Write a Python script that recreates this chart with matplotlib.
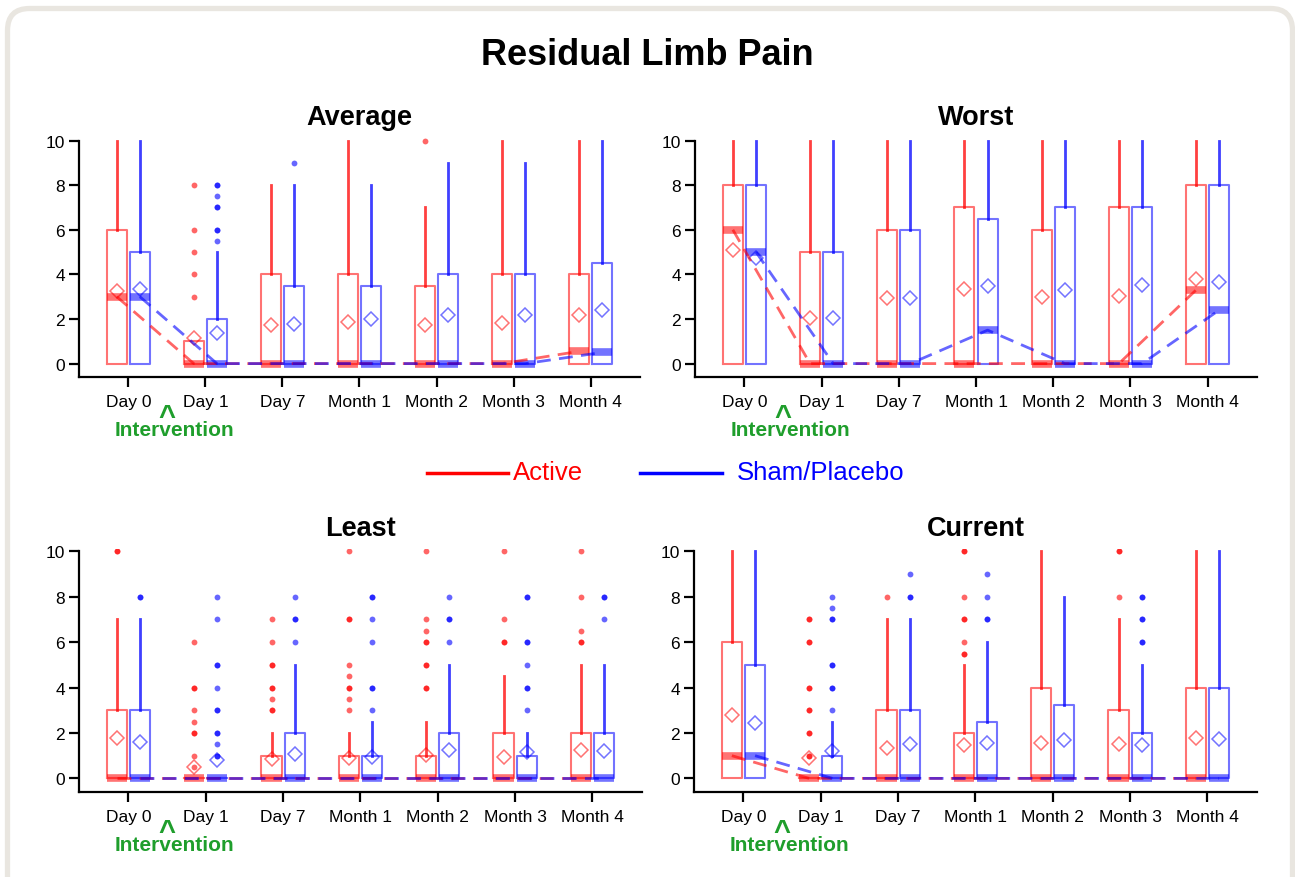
import matplotlib.pyplot as plt
from matplotlib.patches import FancyBboxPatch
from matplotlib.lines import Line2D

plt.rcParams['font.family'] = ['Liberation Sans', 'DejaVu Sans']

timepoints = ["Day 0", "Day 1", "Day 7", "Month 1", "Month 2", "Month 3", "Month 4"]

# ---- Average ----
avg_act_q3 = [6, 1, 4, 4, 3.5, 4, 4]
avg_act_med = [3, 0, 0, 0, 0, 0, 0.55]
avg_act_hi = [10, 1, 8, 10, 7, 10, 10]
avg_act_mean = [3.25, 1.16, 1.75, 1.87, 1.72, 1.81, 2.16]
avg_act_out = [[], [3, 4, 5, 6, 8], [], [], [10], [], []]
avg_sham_q3 = [5, 2, 3.5, 3.5, 4, 4, 4.5]
avg_sham_med = [3, 0, 0, 0, 0, 0, 0.5]
avg_sham_hi = [10, 5, 8, 8, 9, 9, 10]
avg_sham_mean = [3.33, 1.37, 1.79, 1.99, 2.19, 2.16, 2.40]
avg_sham_out = [[], [5.5, 6, 6, 7, 7, 7.5, 8, 8], [9], [], [], [], []]

# ---- Worst ----
wst_act_q3 = [8, 5, 6, 7, 6, 7, 8]
wst_act_med = [6, 0, 0, 0, 0, 0, 3.3]
wst_act_hi = [10, 10, 10, 10, 10, 10, 10]
wst_act_mean = [5.1, 2.04, 2.96, 3.33, 2.99, 3.03, 3.81]
wst_act_out = [[], [], [], [], [], [], []]
wst_sham_q3 = [8, 5, 6, 6.5, 7, 7, 8]
wst_sham_med = [5, 0, 0, 1.5, 0, 0, 2.4]
wst_sham_hi = [10, 10, 10, 10, 10, 10, 10]
wst_sham_mean = [4.73, 2.04, 2.96, 3.46, 3.30, 3.52, 3.66]
wst_sham_out = [[], [], [], [], [], [], []]

# ---- Least ----
lst_act_q3 = [3, 0, 1, 1, 1, 2, 2]
lst_act_med = [0, 0, 0, 0, 0, 0, 0]
lst_act_hi = [7, 0, 2, 2, 2.5, 4.5, 5]
lst_act_mean = [1.8, 0.51, 0.85, 0.9, 1.03, 0.95, 1.23]
lst_act_out = [[10, 10], [0.5, 1, 2, 2, 2.5, 3, 4, 4, 6],
               [3, 3, 3.5, 4, 4, 5, 5, 6, 7], [3, 3.5, 4, 4, 4.5, 5, 7, 7, 10],
               [4, 4, 5, 5, 6, 6, 6.5, 7, 10], [6, 6, 7, 10], [6, 6, 6.5, 8, 10]]
lst_sham_q3 = [3, 0, 2, 1, 2, 1, 2]
lst_sham_med = [0, 0, 0, 0, 0, 0, 0]
lst_sham_hi = [7, 0, 5, 2.5, 5, 2, 5]
lst_sham_mean = [1.61, 0.81, 1.09, 0.95, 1.23, 1.17, 1.2]
lst_sham_out = [[8, 8], [1, 1, 1.5, 2, 2, 3, 3, 4, 5, 5, 7, 8], [6, 7, 7, 8],
                [3, 4, 4, 6, 7, 8, 8], [6, 7, 7, 8], [3, 4, 4, 5, 6, 6, 8, 8], [7, 8, 8]]

# ---- Current ----
cur_act_q3 = [6, 0, 3, 2, 4, 3, 4]
cur_act_med = [1, 0, 0, 0, 0, 0, 0]
cur_act_hi = [10, 0, 7, 5, 10, 7, 10]
cur_act_mean = [2.79, 0.88, 1.36, 1.45, 1.58, 1.51, 1.79]
cur_act_out = [[], [1, 1, 2, 2, 3, 3, 4, 4, 6, 6, 7, 7], [8],
               [5.5, 5.5, 6, 7, 7, 8, 10, 10], [], [8, 10, 10], []]
cur_sham_q3 = [5, 1, 3, 2.5, 3.25, 2, 4]
cur_sham_med = [1, 0, 0, 0, 0, 0, 0]
cur_sham_hi = [10, 2.5, 7, 6, 8, 5, 10]
cur_sham_mean = [2.46, 1.2, 1.51, 1.54, 1.7, 1.47, 1.72]
cur_sham_out = [[], [3, 4, 4, 5, 5, 7, 7, 7.5, 8], [8, 8, 9], [7, 7, 8, 9], [],
                [6, 6, 7, 7, 8, 8], []]

panels = [
    ("Average", [0.061, 0.5695, 0.4332, 0.2718],
     (avg_act_q3, avg_act_med, avg_act_hi, avg_act_mean, avg_act_out),
     (avg_sham_q3, avg_sham_med, avg_sham_hi, avg_sham_mean, avg_sham_out)),
    ("Worst", [0.5367, 0.5695, 0.434, 0.2718],
     (wst_act_q3, wst_act_med, wst_act_hi, wst_act_mean, wst_act_out),
     (wst_sham_q3, wst_sham_med, wst_sham_hi, wst_sham_mean, wst_sham_out)),
    ("Least", [0.061, 0.0968, 0.4347, 0.2767],
     (lst_act_q3, lst_act_med, lst_act_hi, lst_act_mean, lst_act_out),
     (lst_sham_q3, lst_sham_med, lst_sham_hi, lst_sham_mean, lst_sham_out)),
    ("Current", [0.5359, 0.0968, 0.4347, 0.2767],
     (cur_act_q3, cur_act_med, cur_act_hi, cur_act_mean, cur_act_out),
     (cur_sham_q3, cur_sham_med, cur_sham_hi, cur_sham_mean, cur_sham_out)),
]

GREEN = '#1f9e2c'


def draw_group(ax, data, offset, rgb):
    q3, med, hi, mean, out = data
    pos = [i + offset for i in range(len(q3))]
    stats = []
    for i in range(len(q3)):
        stats.append(dict(med=med[i], q1=0, q3=q3[i], whislo=0, whishi=hi[i],
                          mean=mean[i], fliers=out[i]))
    ax.bxp(stats, positions=pos, widths=0.26, showmeans=True, showcaps=False,
           manage_ticks=False,
           boxprops=dict(color=rgb + (0.55,), lw=1.5),
           whiskerprops=dict(color=rgb + (0.75,), lw=2),
           medianprops=dict(color=rgb + (0.55,), lw=5.5, solid_capstyle='butt'),
           meanprops=dict(marker='D', markerfacecolor='none',
                          markeredgecolor=rgb + (0.55,), markersize=7,
                          markeredgewidth=1.1),
           flierprops=dict(marker='o', markerfacecolor=rgb + (0.6,),
                           markeredgecolor='none', markersize=4.2))
    ax.plot(pos, med, color=rgb + (0.6,), lw=2, dashes=(5, 3), zorder=4)


fig = plt.figure(figsize=(12.95, 8.78), dpi=100)

frame = FancyBboxPatch((7.5, -30), 1285, 878 - 9.5 + 30,
                       boxstyle="round,pad=0,rounding_size=22",
                       transform=None, facecolor='white',
                       edgecolor='#e9e6e0', lw=3.8, zorder=-10)
fig.patches.append(frame)

fig.text(0.5, 0.937, "Residual Limb Pain", ha='center', va='center',
         fontsize=26, fontweight='bold')

for title, rect, act, sham in panels:
    ax = fig.add_axes(rect)
    ax.patch.set_alpha(0)
    draw_group(ax, act, -0.15, (1.0, 0.0, 0.0))
    draw_group(ax, sham, 0.15, (0.0, 0.0, 1.0))
    ax.set_xlim(-0.64, 6.64)
    ax.set_ylim(-0.6, 10.1)
    ax.set_yticks(range(0, 11, 2))
    ax.set_xticks(range(len(timepoints)), timepoints)
    ax.spines['top'].set_visible(False)
    ax.spines['right'].set_visible(False)
    ax.spines['left'].set_bounds(-0.6, 10)
    for s in ('left', 'bottom'):
        ax.spines[s].set_linewidth(1.6)
    ax.tick_params(axis='both', length=7, width=1.6, labelsize=12.5)
    ax.tick_params(axis='x', pad=5)
    ax.tick_params(axis='y', pad=3)
    ax.set_title(title, fontsize=19.5, fontweight='bold', pad=10)
    tr = ax.get_xaxis_transform()
    ax.annotate("^", xy=(0.5, 0), xycoords=tr, xytext=(0, -34),
                textcoords='offset points', ha='center', va='baseline',
                fontsize=21, fontweight='bold', color=GREEN)
    ax.annotate("Intervention", xy=(0.6, 0), xycoords=tr, xytext=(0, -37.5),
                textcoords='offset points', ha='center', va='center',
                fontsize=15, fontweight='bold', color=GREEN)

# legend drawn by hand
fig.lines.append(Line2D([0.33, 0.392], [0.46, 0.46], transform=fig.transFigure,
                        color='red', lw=2.5))
fig.text(0.396, 0.461, "Active", color='red', fontsize=18.5, va='center')
fig.lines.append(Line2D([0.494, 0.5575], [0.46, 0.46], transform=fig.transFigure,
                        color='blue', lw=2.5))
fig.text(0.569, 0.461, "Sham/Placebo", color='blue', fontsize=18.5, va='center')

fig.savefig('out.png', dpi=100)
